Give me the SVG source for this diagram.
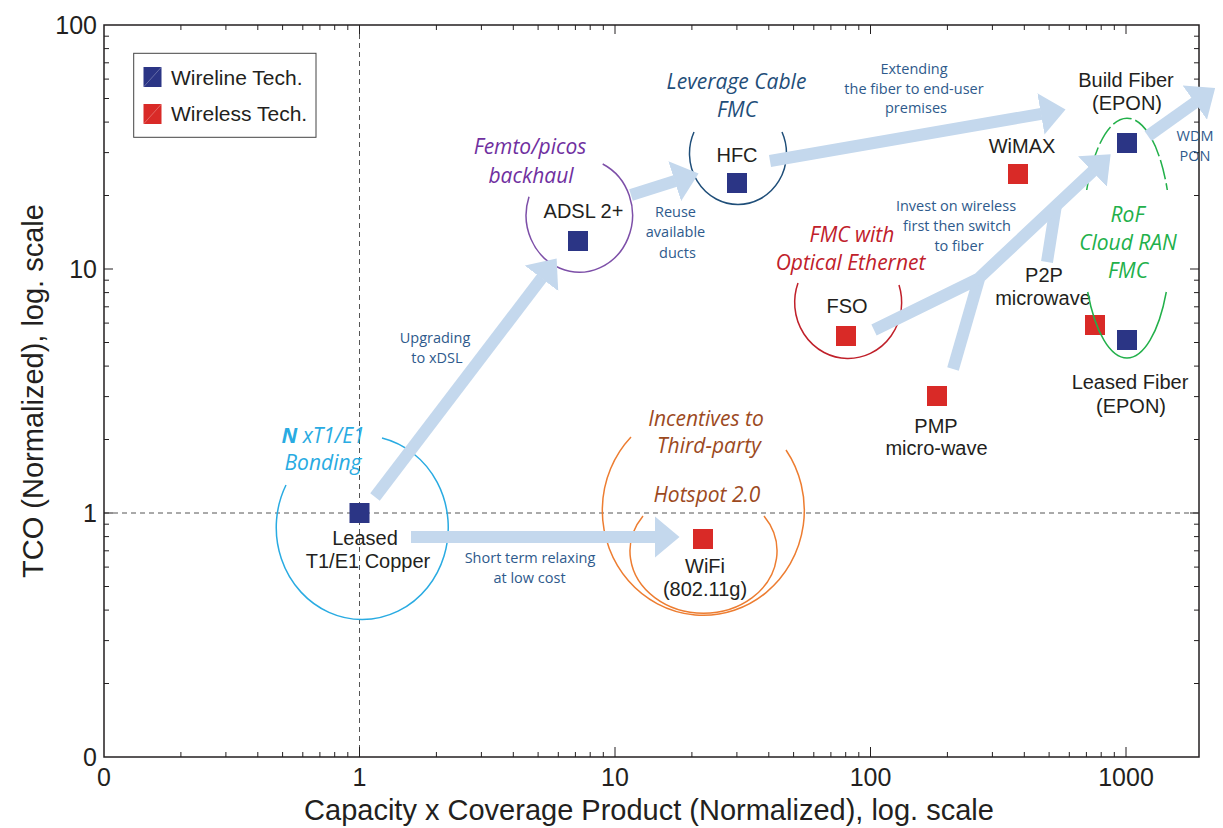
<svg xmlns="http://www.w3.org/2000/svg" width="1223" height="828" viewBox="0 0 1223 828">
<defs>
<style>
.lbl{font-family:"Liberation Sans",Arial,sans-serif;font-size:20px;fill:#231f20;text-anchor:middle}
.ax{font-family:"Liberation Sans",Arial,sans-serif;font-size:25px;fill:#231f20}
.title{font-family:"Liberation Sans",Arial,sans-serif;font-size:29px;fill:#231f20;text-anchor:middle}
.grp{font-family:"Open Sans","Liberation Sans",sans-serif;font-style:italic;font-size:21px;text-anchor:middle}
.ann{font-family:"Open Sans","Liberation Sans",sans-serif;font-size:14.5px;fill:#2e5a8c;text-anchor:middle}
.wl{fill:#2b3585}
.ws{fill:#d92a27}
.arc{fill:none;stroke-width:1.5}
.arr{fill:none;stroke:#c4d8ed;stroke-width:12;stroke-linejoin:round}
.tick{fill:none;stroke:#231f20;stroke-width:1}
</style>
<marker id="head" markerUnits="userSpaceOnUse" viewBox="0 0 25 42" markerWidth="25" markerHeight="42" refX="0.5" refY="21" orient="auto">
<path d="M0,0 L25,21 L0,42 z" fill="#c4d8ed"/>
</marker>
</defs>
<rect width="1223" height="828" fill="#ffffff"/>

<g id="axes">
<path d="M359.5,25V757 M104,513H1199" stroke="#555" stroke-width="1" stroke-dasharray="5,4" fill="none"/>
<rect x="104" y="25" width="1095" height="732" fill="none" stroke="#231f20" stroke-width="1.5"/>
<path class="tick" d="M104,683.5h5M104,640.6h5M104,610.1h5M104,586.5h5M104,567.1h5M104,550.8h5M104,536.6h5M104,524.2h5M104,439.5h5M104,396.6h5M104,366.1h5M104,342.5h5M104,323.1h5M104,306.8h5M104,292.6h5M104,280.2h5M104,195.5h5M104,152.6h5M104,122.1h5M104,98.5h5M104,79.1h5M104,62.8h5M104,48.6h5M104,36.2h5M104,513h9M104,269h9"/>
<path class="tick" d="M1199,683.5h-5M1199,640.6h-5M1199,610.1h-5M1199,586.5h-5M1199,567.1h-5M1199,550.8h-5M1199,536.6h-5M1199,524.2h-5M1199,439.5h-5M1199,396.6h-5M1199,366.1h-5M1199,342.5h-5M1199,323.1h-5M1199,306.8h-5M1199,292.6h-5M1199,280.2h-5M1199,195.5h-5M1199,152.6h-5M1199,122.1h-5M1199,98.5h-5M1199,79.1h-5M1199,62.8h-5M1199,48.6h-5M1199,36.2h-5M1199,513h-9M1199,269h-9"/>
<path class="tick" d="M180.9,25v5M225.9,25v5M257.8,25v5M282.6,25v5M302.8,25v5M319.9,25v5M334.7,25v5M347.8,25v5M436.4,25v5M481.4,25v5M513.3,25v5M538.1,25v5M558.3,25v5M575.4,25v5M590.2,25v5M603.3,25v5M691.9,25v5M736.9,25v5M768.8,25v5M793.6,25v5M813.8,25v5M830.9,25v5M845.7,25v5M858.8,25v5M947.4,25v5M992.4,25v5M1024.3,25v5M1049.1,25v5M1069.3,25v5M1086.4,25v5M1101.2,25v5M1114.3,25v5M359.5,25v9M615,25v9M870.5,25v9M1126,25v9"/>
<path class="tick" d="M180.9,757v-5M225.9,757v-5M257.8,757v-5M282.6,757v-5M302.8,757v-5M319.9,757v-5M334.7,757v-5M347.8,757v-5M436.4,757v-5M481.4,757v-5M513.3,757v-5M538.1,757v-5M558.3,757v-5M575.4,757v-5M590.2,757v-5M603.3,757v-5M691.9,757v-5M736.9,757v-5M768.8,757v-5M793.6,757v-5M813.8,757v-5M830.9,757v-5M845.7,757v-5M858.8,757v-5M947.4,757v-5M992.4,757v-5M1024.3,757v-5M1049.1,757v-5M1069.3,757v-5M1086.4,757v-5M1101.2,757v-5M1114.3,757v-5M359.5,757v-10M615,757v-10M870.5,757v-10M1126,757v-10"/>
<g class="ax" text-anchor="end">
<text x="97" y="34">100</text>
<text x="97" y="278">10</text>
<text x="97" y="522">1</text>
<text x="97" y="766">0</text>
</g>
<g class="ax" text-anchor="middle">
<text x="104" y="786">0</text>
<text x="359.5" y="786">1</text>
<text x="615" y="786">10</text>
<text x="870.5" y="786">100</text>
<text x="1126" y="786">1000</text>
</g>
<text class="title" x="649" y="820">Capacity x Coverage Product (Normalized), log. scale</text>
<text class="title" transform="translate(43,391) rotate(-90)">TCO (Normalized), log. scale</text>
</g>

<g id="legend">
<rect x="133.7" y="53.3" width="182.3" height="84" fill="#fff" stroke="#444" stroke-width="1"/>
<rect class="wl" x="143.5" y="67" width="18" height="20"/>
<line x1="143.5" y1="87" x2="161.5" y2="67" stroke="#ffffff" stroke-opacity="0.35" stroke-width="0.8"/>
<rect class="ws" x="143.5" y="104" width="18" height="20"/>
<line x1="143.5" y1="124" x2="161.5" y2="104" stroke="#ffffff" stroke-opacity="0.35" stroke-width="0.8"/>
<text x="171" y="85" style="font-family:'Liberation Sans',Arial,sans-serif;font-size:21px;fill:#231f20">Wireline Tech.</text>
<text x="171" y="121" style="font-family:'Liberation Sans',Arial,sans-serif;font-size:21px;fill:#231f20">Wireless Tech.</text>
</g>

<g id="node-leased-copper">
<path class="arc" stroke="#29abe2" d="M382,438 A86,92 0 1 1 286,485"/>
<text class="grp" fill="#29abe2" x="323" y="443"><tspan font-weight="bold">N</tspan> xT1/E1</text>
<text class="grp" fill="#29abe2" x="323" y="470">Bonding</text>
<rect class="wl" x="349.5" y="503" width="20" height="20"/>
<text class="lbl" x="365" y="545">Leased</text>
<text class="lbl" x="368" y="568">T1/E1 Copper</text>
</g>

<g id="node-adsl">
<path class="arc" stroke="#7d4fa8" d="M602.7,164 A53.2,57 0 1 1 529,196.7"/>
<text class="grp" fill="#7030a0" x="530" y="154">Femto/picos</text>
<text class="grp" fill="#7030a0" x="531" y="183">backhaul</text>
<text class="lbl" x="583.5" y="218">ADSL 2+</text>
<rect class="wl" x="568" y="231" width="20" height="20"/>
</g>

<g id="node-hfc">
<path class="arc" stroke="#1f4e79" d="M782,132 A48.5,51 0 1 1 694,132"/>
<text class="grp" fill="#1f4e79" x="736.5" y="89">Leverage Cable</text>
<text class="grp" fill="#1f4e79" x="737" y="117">FMC</text>
<text class="lbl" x="737" y="162">HFC</text>
<rect class="wl" x="727" y="173" width="20" height="20"/>
</g>

<g id="node-wifi">
<path class="arc" stroke="#ed7d31" d="M786,450 A101,105 0 1 1 631,437"/>
<path class="arc" stroke="#ed7d31" d="M764,516 A73.5,62 0 1 1 643,516"/>
<text class="grp" fill="#9c4a1e" x="706" y="426">Incentives to</text>
<text class="grp" fill="#9c4a1e" x="709" y="453">Third-party</text>
<text class="grp" fill="#9c4a1e" x="707" y="502">Hotspot 2.0</text>
<rect class="ws" x="693" y="529" width="20" height="20"/>
<text class="lbl" x="705" y="573">WiFi</text>
<text class="lbl" x="705" y="596">(802.11g)</text>
</g>

<g id="node-fso">
<path class="arc" stroke="#c0202a" d="M899,285 A53.5,56 0 1 1 798,283"/>
<text class="grp" fill="#c0202a" x="852" y="242">FMC with</text>
<text class="grp" fill="#c0202a" x="850.5" y="270">Optical Ethernet</text>
<text class="lbl" x="847" y="313">FSO</text>
<rect class="ws" x="836" y="326" width="20" height="20"/>
</g>

<g id="node-wimax">
<text class="lbl" x="1022" y="153">WiMAX</text>
<rect class="ws" x="1008" y="164" width="20" height="20"/>
</g>

<g id="node-pmp">
<rect class="ws" x="927" y="386" width="20" height="20"/>
<text class="lbl" x="936" y="433">PMP</text>
<text class="lbl" x="936.5" y="455">micro-wave</text>
</g>

<g id="node-p2p">
<text class="lbl" x="1044" y="282">P2P</text>
<text class="lbl" x="1043" y="305">microwave</text>
<rect class="ws" x="1085" y="315" width="20" height="20"/>
</g>

<g id="node-fiber">
<text class="lbl" x="1126" y="87">Build Fiber</text>
<text class="lbl" x="1127" y="110">(EPON)</text>
<rect class="wl" x="1117" y="133" width="20" height="20"/>
<rect class="wl" x="1117" y="330" width="20" height="20"/>
<path class="arc" stroke="#22b04a" stroke-dasharray="20,4" d="M1086.7,190 A44,120 0 0 1 1167.3,190"/>
<path class="arc" stroke="#22b04a" d="M1087.7,292 A44,120 0 0 0 1166.3,292"/>
<text class="grp" fill="#22b04a" x="1127.5" y="222">RoF</text>
<text class="grp" fill="#22b04a" x="1128" y="250">Cloud RAN</text>
<text class="grp" fill="#22b04a" x="1128" y="278">FMC</text>
<text class="lbl" x="1130" y="389">Leased Fiber</text>
<text class="lbl" x="1131" y="413">(EPON)</text>
</g>

<g id="connectors">
<line class="arr" x1="375" y1="497" x2="541.8" y2="277.9" marker-end="url(#head)"/>
<line class="arr" x1="631" y1="195" x2="675.2" y2="181" marker-end="url(#head)"/>
<line class="arr" x1="770" y1="161" x2="1041.4" y2="113.8" marker-end="url(#head)"/>
<line class="arr" x1="1148" y1="136" x2="1195.2" y2="102.3" marker-end="url(#head)"/>
<line class="arr" x1="411" y1="537" x2="655" y2="537" marker-end="url(#head)"/>
<line class="arr" x1="953" y1="369" x2="979" y2="279"/>
<line class="arr" x1="1047" y1="262" x2="1056" y2="205"/>
<polyline class="arr" points="874,330 978,279 1092.8,171.1" marker-end="url(#head)"/>
<text class="ann" x="435" y="343">Upgrading</text>
<text class="ann" x="437" y="363">to xDSL</text>
<text class="ann" x="675.5" y="217">Reuse</text>
<text class="ann" x="675.5" y="237">available</text>
<text class="ann" x="677.5" y="258">ducts</text>
<text class="ann" x="914" y="74">Extending</text>
<text class="ann" x="914" y="94">the fiber to end-user</text>
<text class="ann" x="916" y="113">premises</text>
<text class="ann" x="1195" y="141">WDM</text>
<text class="ann" x="1195" y="161">PON</text>
<text class="ann" x="956" y="211">Invest on wireless</text>
<text class="ann" x="957" y="231">first then switch</text>
<text class="ann" x="959" y="251">to fiber</text>
<text class="ann" x="530" y="563">Short term relaxing</text>
<text class="ann" x="529.5" y="583">at low cost</text>
</g>
</svg>
